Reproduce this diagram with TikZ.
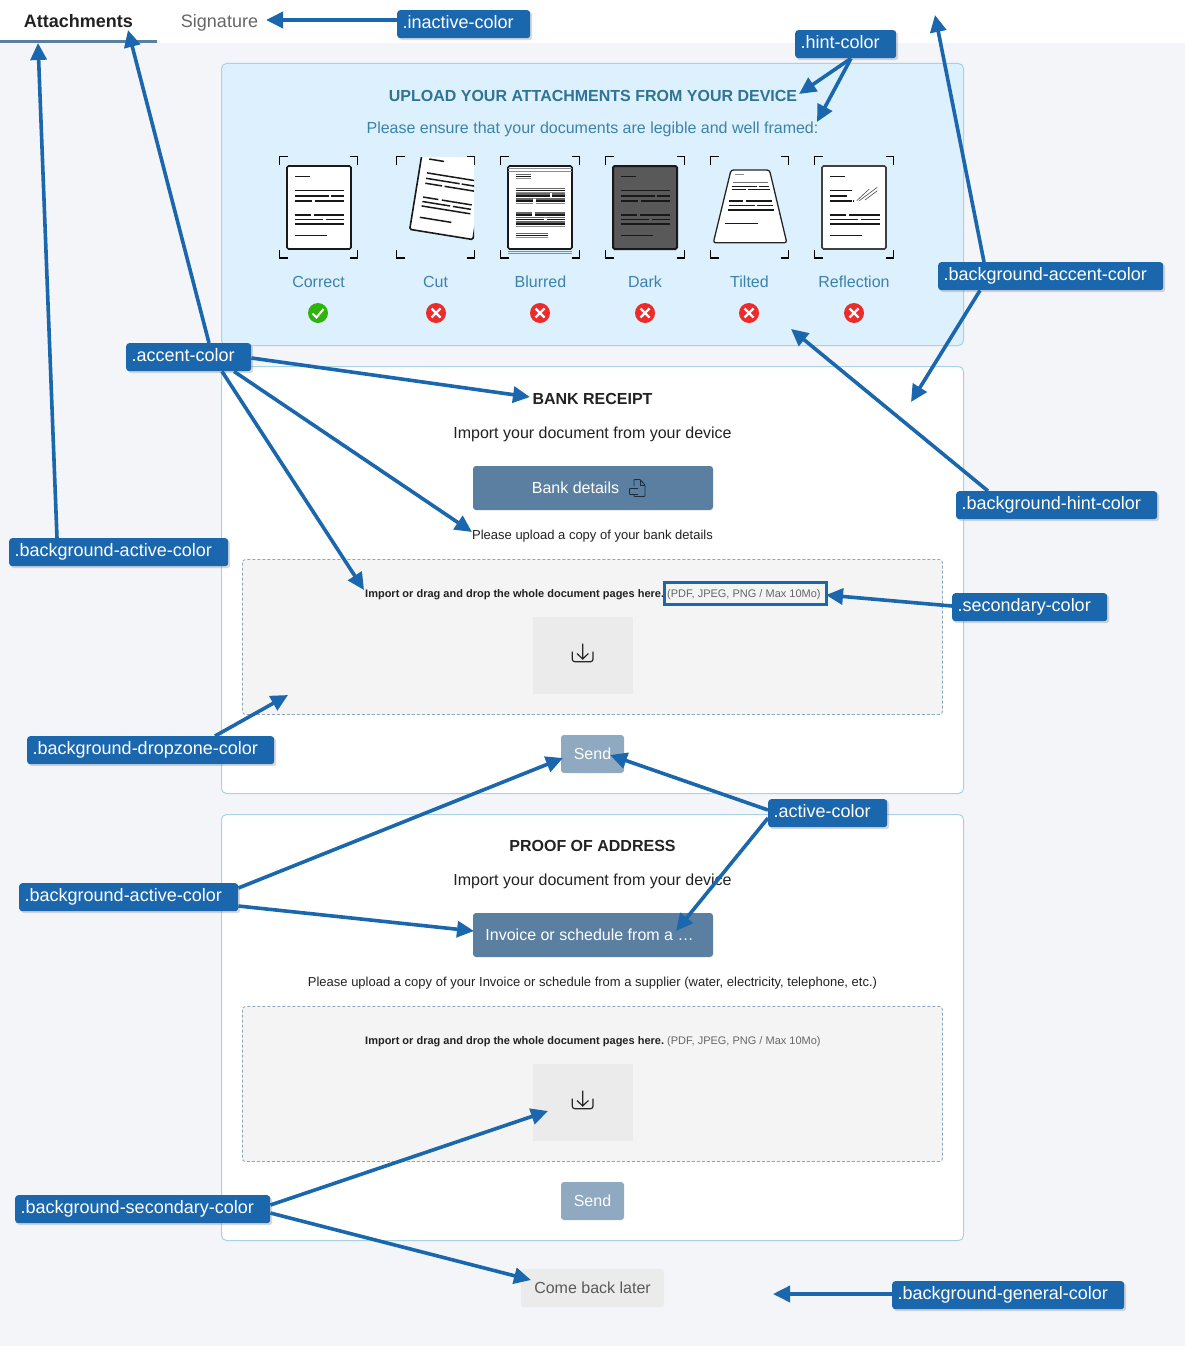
\documentclass[tikz,border=0pt]{standalone}
\usepackage{fontspec}
\setmainfont{Liberation Sans}
\usetikzlibrary{arrows.meta,shadows,calc}
\definecolor{pagebg}{HTML}{F3F5F9}
\definecolor{hintbg}{HTML}{DCF1FD}
\definecolor{panelline}{HTML}{A9D3E0}
\definecolor{activec}{HTML}{5A7FA1}
\definecolor{sendc}{HTML}{8EA9C0}
\definecolor{dropbg}{HTML}{F4F4F4}
\definecolor{secbg}{HTML}{EBEBEB}
\definecolor{labc}{HTML}{1A67AD}
\definecolor{hintc}{HTML}{3C82AB}
\definecolor{titlec}{HTML}{2F7396}
\definecolor{darkc}{HTML}{222222}
\definecolor{grayt}{HTML}{666666}
\definecolor{okc}{HTML}{2FB30F}
\definecolor{noc}{HTML}{EE2B2B}
\definecolor{iconc}{HTML}{1C2D3F}
\newcommand{\fs}[1]{\fontsize{#1}{#1}\selectfont}
\newcommand{\doclines}{%
  \draw[docl] (8,10.5)--(23,10.5) (8,24.5)--(57.3,24.5)
    (8,30)--(42,30) (44,30)--(57.3,30)
    (8,35)--(25,35) (27.5,35)--(57.3,35)
    (8,49)--(23.5,49) (27,49)--(57.3,49)
    (8,53.5)--(36,53.5) (39,53.5)--(57.3,53.5)
    (8,58)--(57.3,58) (8,69.5)--(40,69.5);}
\newcommand{\crop}[4]{%
  \draw[cropl] (#1,#2+8)--(#1,#2)--(#1+8,#2);
  \draw[cropl] (#3-8,#2)--(#3,#2)--(#3,#2+8);
  \draw[cropl] (#1,#4-8)--(#1,#4)--(#1+8,#4);
  \draw[cropl] (#3-8,#4)--(#3,#4)--(#3,#4-8);}
\newcommand{\cross}[1]{%
  \fill[noc] (#1,313) circle (10);
  \draw[white,line width=2.2pt] (#1-4.5,308.5)--(#1+4.5,317.5) (#1-4.5,317.5)--(#1+4.5,308.5);}
\newcommand{\dlicon}[1]{%
  \begin{scope}[shift={(0,#1)},line width=1.2pt,black!85]
  \draw[rounded corners=2.5pt] (572.3,651.7)--(572.3,661.7)--(593,661.7)--(593,651.7);
  \draw (582.7,643.5)--(582.7,658.5) (577,653.5)--(582.7,659)--(588.4,653.5);
  \end{scope}}
\tikzset{
  docl/.style={line width=1.5pt,black!90},
  cropl/.style={line width=1.1pt,black},
  docf/.style={draw=black!90,line width=1.6pt,rounded corners=1.5pt,fill=white},
  lab/.style={anchor=north west,fill=labc,rounded corners=3pt,text=white,align=left,
    font=\fs{18},inner xsep=5.5pt,inner ysep=5pt,text height=13pt,text depth=5pt,
    drop shadow={opacity=.3,shadow xshift=2pt,shadow yshift=-2pt}},
  arr/.style={draw=labc,line width=3.6pt,-{Triangle[length=17pt,width=16pt]}},
  txt/.style={anchor=base,inner sep=0pt},
  panel/.style={draw=panelline,line width=1pt,fill=white,rounded corners=5pt},
  dropz/.style={draw=activec!70,line width=.8pt,dashed,dash pattern=on 3pt off 2pt,fill=dropbg,rounded corners=3pt},
}
\begin{document}
\begin{tikzpicture}[x=1pt,y=-1pt]
\useasboundingbox (0,0) rectangle (1185,1346);
\fill[pagebg] (0,0) rectangle (1185,1346);
\fill[white] (0,0) rectangle (1185,43);
\fill[activec] (0,40) rectangle (157,43);
\node[txt,font=\bfseries\fs{18},text=darkc] (tab1) at (78.5,28) {Attachments};
\node[txt,font=\fs{18},text=grayt] (tab2) at (219.5,28) {Signature};
% hint panel
\draw[panel,fill=hintbg] (221.5,63.5) rectangle (963.5,345.5);
\node[txt,font=\bfseries\fs{16},text=titlec] (title) at (593,101) {UPLOAD YOUR ATTACHMENTS FROM YOUR DEVICE};
\node[txt,font=\fs{16},text=hintc] (sub) at (592.5,133) {Please ensure that your documents are legible and well framed:};
\crop{279.5}{156.5}{357.5}{258}
\crop{396.5}{156.5}{474.5}{258}
\crop{500.5}{156.5}{579.5}{258}
\crop{605.5}{156.5}{684.5}{258}
\crop{710.5}{156.5}{788.5}{258}
\crop{814.5}{156.5}{893.5}{258}
% correct
\begin{scope}[shift={(287,166)}]
\draw[docf] (0,0) rectangle (64,83);
\doclines
\end{scope}
% cut
\begin{scope}
\clip (396,157) rectangle (474,260);
\begin{scope}[shift={(423,147.4)},rotate=-9.2]
\draw[docf] (0,0) rectangle (64,83);
\doclines
\end{scope}
\end{scope}
% blurred
\begin{scope}[shift={(508,166)}]
\draw[docf] (0,0) rectangle (64,83);
\draw[black!45,line width=1pt] (0,2.5)--(64,2.5) (0,5)--(64,5) (0,85)--(64,85) (0,87.5)--(64,87.5);
\begin{scope}[shift={(0,2.2)}]\tikzset{docl/.style={line width=1.4pt,black!45}}\doclines\end{scope}
\begin{scope}[shift={(0,-2)}]\tikzset{docl/.style={line width=1.4pt,black!60}}\doclines\end{scope}
\doclines
\end{scope}
% dark
\begin{scope}[shift={(613,166)}]
\draw[docf,fill=black!65,line width=2pt] (0,0) rectangle (64,83);
\doclines
\end{scope}
% tilted
\draw[draw=black!85,line width=1.3pt,fill=white,rounded corners=2.5pt] (731,170)--(769.5,170)--(786.8,242.8)--(713.3,242.8)--cycle;
\begin{scope}[x=.3333pt,y=-.3333pt,shift={(590pt,-140pt)}]
\draw[black!45,line width=1.2pt] (434,104)--(462,104);
\draw[black!55,line width=1.2pt] (430,128)--(535,128);
\draw[docl] (427,140)--(500,140) (507,140)--(538,140) (425,149)--(468,149) (475,149)--(540,149)
 (418,183)--(460,183) (468,183)--(547,183) (416,196)--(495,196) (502,196)--(549,196)
 (414,210)--(552,210) (406,250)--(505,250);
\end{scope}
% reflection
\begin{scope}[shift={(822,166)}]
\draw[docf,draw=black!75] (0,0) rectangle (64,83);
\draw[docl] (7.7,10.5)--(22.7,10.5) (7.7,24.5)--(29.7,24.5) (7.7,30)--(24.7,30) (7.7,35)--(29.7,35) (31,35)--(32,35)
 (7.7,49)--(23.5,49) (27,49)--(58,49) (7.7,53.5)--(36,53.5) (39,53.5)--(58,53.5)
 (7.7,58)--(58,58) (7.7,69.5)--(40,69.5);
\draw[black!70,line width=.6pt] (34.7,34.7)--(47.3,23) (37.3,34.7)--(55.3,21.3) (43,34)--(55.3,24.7);
\end{scope}
\foreach \x/\t in {318.5/Correct,435.5/Cut,540.5/Blurred,645/Dark,749.5/Tilted,854/Reflection}
  \node[txt,font=\fs{16},text=hintc] (lbl\t) at (\x,287) {\t};
\fill[okc] (318,313) circle (10);
\draw[white,line width=2pt] (312.5,313.5)--(316.5,317.5)--(323.5,309);
\cross{436}\cross{540}\cross{645}\cross{749}\cross{854}
% bank panel
\draw[panel] (221.5,366.5) rectangle (963.5,793.5);
\node[txt,font=\bfseries\fs{16},text=darkc] (bank) at (592.5,404) {BANK RECEIPT};
\node[txt,font=\fs{16},text=darkc] (imp1) at (592.5,438) {Import your document from your device};
\fill[activec,rounded corners=3pt] (473,466) rectangle (713,510);
\node[txt,font=\fs{16},text=white] (btn1) at (575.5,493) {Bank details};
\draw[iconc,line width=.9pt,rounded corners=.8pt] (634,486)--(634,479.5)--(640,479.5)--(645,485)--(645,496.5)--(634,496.5)--(634,494.5);
\draw[iconc,line width=.9pt] (640,479.5)--(640,485)--(645,485);
\draw[iconc,line width=.9pt,rounded corners=.8pt] (638,488.5)--(629.5,488.5)--(629.5,494.5)--(638,494.5);
\node[txt,font=\fs{13},text=darkc] (up1) at (592.5,539) {Please upload a copy of your bank details};
\draw[dropz] (242.5,559.5) rectangle (942.5,714.5);
\node[txt,anchor=base west,font=\bfseries\fs{11},text=darkc] (drop1) at (365,597) {Import or drag and drop the whole document pages here.};
\node[txt,anchor=base west,font=\fs{11},text=grayt] (fmt1) at (667,597) {(PDF, JPEG, PNG / Max 10Mo)};
\draw[labc,line width=3.4pt] (664.5,582.5) rectangle (826.5,604.5);
\fill[secbg] (533,617) rectangle (633,694);
\dlicon{0}
\fill[sendc,rounded corners=3pt] (561,735) rectangle (624,773);
\node[txt,font=\fs{16},text=white] (send1) at (592.5,759) {Send};
% address panel
\draw[panel] (221.5,814.5) rectangle (963.5,1240.5);
\node[txt,font=\bfseries\fs{16},text=darkc] (addr) at (592.5,851) {PROOF OF ADDRESS};
\node[txt,font=\fs{16},text=darkc] (imp2) at (592.5,885) {Import your document from your device};
\fill[activec,rounded corners=3pt] (473,913) rectangle (713,957);
\node[txt,font=\fs{16},text=white] (btn2) at (589.5,940) {Invoice or schedule from a …};
\node[txt,font=\fs{13},text=darkc] (up2) at (592.5,986) {Please upload a copy of your Invoice or schedule from a supplier (water, electricity, telephone, etc.)};
\draw[dropz] (242.5,1006.5) rectangle (942.5,1161.5);
\node[txt,anchor=base west,font=\bfseries\fs{11},text=darkc] (drop2) at (365,1044) {Import or drag and drop the whole document pages here.};
\node[txt,anchor=base west,font=\fs{11},text=grayt] (fmt2) at (667,1044) {(PDF, JPEG, PNG / Max 10Mo)};
\fill[secbg] (533,1064) rectangle (633,1141);
\dlicon{447}
\fill[sendc,rounded corners=3pt] (561,1182) rectangle (624,1220);
\node[txt,font=\fs{16},text=white] (send2) at (592.5,1206) {Send};
\fill[secbg,rounded corners=3pt] (521,1269) rectangle (664,1307);
\node[txt,font=\fs{16},text=black!65] (later) at (592.5,1293) {Come back later};
% labels
\node[lab,text width=122pt] (inactive) at (397,10) {.inactive-color};
\node[lab,text width=90pt] (hint) at (795,30) {.hint-color};
\node[lab,text width=214pt] (baccent) at (938,262) {.background-accent-color};
\node[lab,text width=114pt] (accent) at (126,343) {.accent-color};
\node[lab,text width=190pt] (bhint) at (956,491) {.background-hint-color};
\node[lab,text width=208pt] (bactive) at (9,538) {.background-active-color};
\node[lab,text width=144pt] (secondary) at (952,593) {.secondary-color};
\node[lab,text width=236pt] (bdrop) at (27,736) {.background-dropzone-color};
\node[lab,text width=108pt] (active) at (768,799) {.active-color};
\node[lab,text width=208pt] (bactiveb) at (19,883) {.background-active-color};
\node[lab,text width=244pt] (bsec) at (15,1195) {.background-secondary-color};
\node[lab,text width=221pt] (bgen) at (892,1281) {.background-general-color};
% arrow tips
\coordinate (t1) at (266,20);
\coordinate (t2) at (799,94);
\coordinate (t3) at (817,122);
\coordinate (t4) at (935,15);
\coordinate (t5) at (911,402);
\coordinate (t6) at (128,30);
\coordinate (t7) at (530,397);
\coordinate (t8) at (472,532);
\coordinate (t9) at (364,590);
\coordinate (t10) at (791,329);
\coordinate (t11) at (38,43);
\coordinate (t12) at (826,595);
\coordinate (t13) at (288,695);
\coordinate (t14) at (610,755);
\coordinate (t15) at (676,931);
\coordinate (t16) at (563,758);
\coordinate (t17) at (474,931);
\coordinate (t18) at (548,1111);
\coordinate (t19) at (531,1280);
\coordinate (t20) at (773,1294);
% arrows
\draw[arr] (inactive.north west)++(0,10) -- (t1);
\draw[arr] (hint.south west)++(56,0) -- (t2);
\draw[arr] (hint.south west)++(56,0) -- (t3);
\draw[arr] (baccent.north west)++(46,0) -- (t4);
\draw[arr] (baccent.south west)++(42,0) -- (t5);
\draw[arr] (accent.north west)++(83,0) -- (t6);
\draw[arr] (accent.north east)++(0,15) -- (t7);
\draw[arr] (accent.south west)++(108,0) -- (t8);
\draw[arr] (accent.south west)++(96,0) -- (t9);
\draw[arr] (bhint.north west)++(32,0) -- (t10);
\draw[arr] (bactive.north west)++(48,0) -- (t11);
\draw[arr] (secondary.north west)++(0,13) -- (t12);
\draw[arr] (bdrop.north west)++(188,0) -- (t13);
\draw[arr] (active.north west)++(0,11) -- (t14);
\draw[arr] (active.north west)++(0,19) -- (t15);
\draw[arr] (bactiveb.north east)++(0,5) -- (t16);
\draw[arr] (bactiveb.north east)++(0,23) -- (t17);
\draw[arr] (bsec.north east)++(0,10) -- (t18);
\draw[arr] (bsec.north east)++(0,18) -- (t19);
\draw[arr] (bgen.north west)++(0,13) -- (t20);
\end{tikzpicture}
\end{document}
